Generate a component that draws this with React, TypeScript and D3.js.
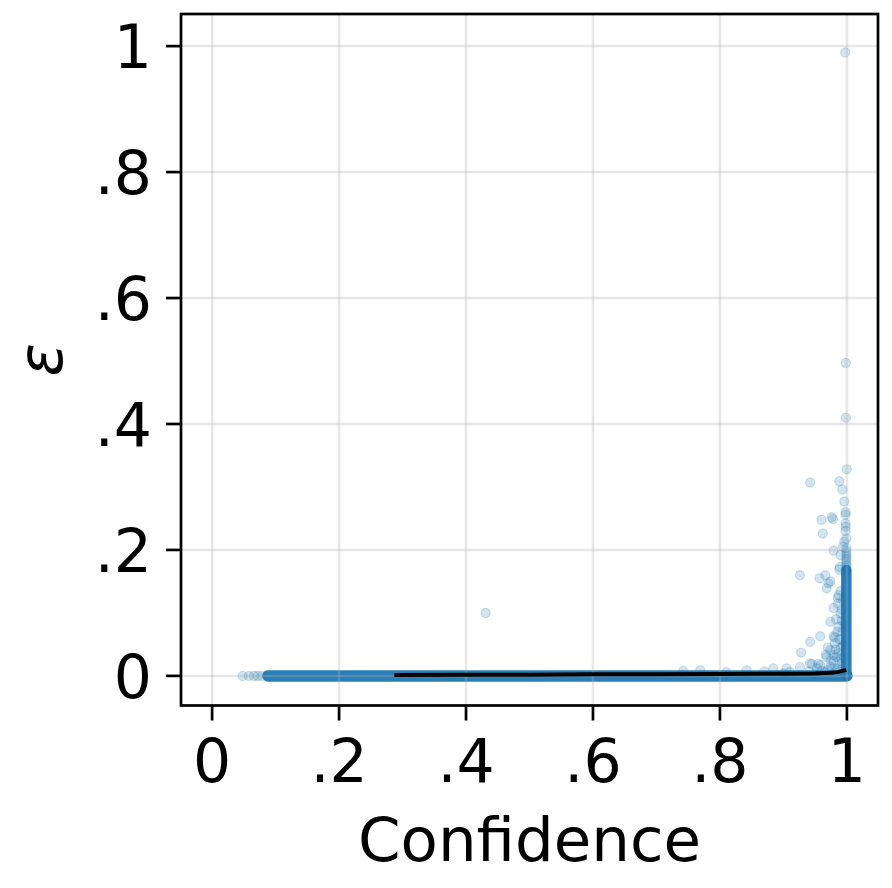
import React from "react";
import * as d3 from "d3";

// ---- data ----
const tickValues = [0, 0.2, 0.4, 0.6, 0.8, 1];
const tickLabels = ["0", ".2", ".4", ".6", ".8", "1"];

// scattered (individually visible) points: confidence, epsilon
const outlierConf = [
  0.9975, 0.9985, 0.9985, 0.9997, 0.988, 0.942, 0.993, 0.996, 0.998, 0.998,
  0.976, 0.978, 0.96, 0.998, 0.998, 0.998, 0.962, 0.999, 0.996, 0.994,
  0.979, 0.99, 0.989, 0.988, 0.926, 0.957, 0.966, 0.971, 0.974, 0.968,
  0.986, 0.987, 0.979, 0.986, 0.99, 0.974, 0.987, 0.958, 0.979, 0.981,
  0.942, 0.981, 0.928, 0.974, 0.979, 0.968, 0.967, 0.987, 0.984, 0.942,
  0.958, 0.945, 0.955, 0.979, 0.974, 0.989, 0.905, 0.884, 0.926, 0.953,
  0.842, 0.742, 0.769, 0.431, 0.96, 0.97, 0.985, 0.99, 0.993, 0.992,
  0.995, 0.993, 0.965, 0.94, 0.91, 0.87, 0.81, 0.98, 0.99, 0.995,
  0.983, 0.9, 0.95, 0.975, 0.97, 0.048, 0.058, 0.066, 0.072, 0.078,
  0.992, 0.994, 0.985, 0.988, 0.991, 0.996, 0.982, 0.976, 0.99, 0.994,
];
const outlierEps = [
  0.99, 0.497, 0.41, 0.328, 0.309, 0.307, 0.296, 0.277, 0.26, 0.256,
  0.252, 0.249, 0.248, 0.242, 0.237, 0.23, 0.226, 0.218, 0.213, 0.205,
  0.199, 0.192, 0.173, 0.169, 0.16, 0.155, 0.16, 0.147, 0.15, 0.139,
  0.124, 0.128, 0.108, 0.115, 0.099, 0.086, 0.078, 0.063, 0.063, 0.061,
  0.054, 0.052, 0.037, 0.041, 0.033, 0.03, 0.034, 0.036, 0.03, 0.02,
  0.017, 0.019, 0.019, 0.023, 0.015, 0.02, 0.012, 0.012, 0.014, 0.012,
  0.009, 0.008, 0.009, 0.1, 0.008, 0.01, 0.012, 0.045, 0.07, 0.088,
  0.03, 0.015, 0.006, 0.007, 0.006, 0.007, 0.006, 0.006, 0.01, 0.055,
  0.09, 0.004, 0.004, 0.025, 0.045, 0, 0, 0, 0, 0,
  0.105, 0.12, 0.07, 0.058, 0.028, 0.082, 0.042, 0.012, 0.135, 0.048,
];

// dense stacked points along the confidence≈1 column
const columnConf = 0.9991;
const columnPointEps = [
  0.168, 0.171, 0.175, 0.178, 0.182, 0.186, 0.19, 0.194, 0.198, 0.203,
];

// saturated point clouds (where points fully overlap)
const bandConf = [0.088, 1.0];
const bandEps = [0.0, 0.0];
const columnDenseEps = [0.0, 0.168];

// binned mean line
const meanConf = [0.287, 0.4, 0.5, 0.6, 0.7, 0.8, 0.9, 0.95, 0.975, 0.985, 0.993, 0.999];
const meanEps = [0.0015, 0.002, 0.002, 0.0025, 0.0025, 0.003, 0.0035, 0.004, 0.005, 0.006, 0.008, 0.0095];

const BLUE = "#1f77b4";
const FONT = "'DejaVu Sans', sans-serif";

export default function App() {
  const W = 892;
  const H = 888;
  const L = 181, R = 878, T = 14, B = 705.5;
  const x = d3.scaleLinear().domain([-0.049, 1.049]).range([L, R]);
  const y = d3.scaleLinear().domain([-0.047, 1.051]).range([B, T]);

  const line = d3
    .line<[number, number]>()
    .x((d) => x(d[0]))
    .y((d) => y(d[1]));

  const bandPts: [number, number][] = bandConf.map((c, i) => [c, bandEps[i]]);
  const colPts: [number, number][] = columnDenseEps.map((e) => [columnConf, e]);
  const meanPts: [number, number][] = meanConf.map((c, i) => [c, meanEps[i]]);

  const scatter = outlierConf.map((c, i) => ({ c, e: outlierEps[i] }));
  const colScatter = columnPointEps.map((e) => ({ c: columnConf, e }));

  const R_PT = 4.6;

  return (
    <svg
      width={W}
      height={H}
      style={{ position: "absolute", left: 0, top: 0, background: "#fff" }}
      fontFamily={FONT}
    >
      <defs>
        <clipPath id="plotclip">
          <rect x={L} y={T} width={R - L} height={B - T} />
        </clipPath>
      </defs>
      <rect x={0} y={0} width={W} height={H} fill="#fff" />

      <g clipPath="url(#plotclip)">
        {/* dense clouds */}
        <path
          d={line(bandPts) || ""}
          fill="none"
          stroke={BLUE}
          strokeOpacity={0.95}
          strokeWidth={11.5}
          strokeLinecap="round"
        />
        <path
          d={line(colPts) || ""}
          fill="none"
          stroke={BLUE}
          strokeOpacity={0.95}
          strokeWidth={10.5}
          strokeLinecap="round"
        />
        {colScatter.map((p, i) => (
          <circle
            key={"cs" + i}
            cx={x(p.c)}
            cy={y(p.e)}
            r={R_PT}
            fill={BLUE}
            fillOpacity={0.2}
            stroke={BLUE}
            strokeOpacity={0.2}
            strokeWidth={1.2}
          />
        ))}
        {scatter.map((p, i) => (
          <circle
            key={"s" + i}
            cx={x(p.c)}
            cy={y(p.e)}
            r={R_PT}
            fill={BLUE}
            fillOpacity={0.2}
            stroke={BLUE}
            strokeOpacity={0.2}
            strokeWidth={1.2}
          />
        ))}

        {/* grid (above scatter, below line) */}
        {tickValues.map((t, i) => (
          <line
            key={"gx" + i}
            x1={x(t)}
            x2={x(t)}
            y1={T}
            y2={B}
            stroke="#b0b0b0"
            strokeOpacity={0.3}
            strokeWidth={2.5}
          />
        ))}
        {tickValues.map((t, i) => (
          <line
            key={"gy" + i}
            x1={L}
            x2={R}
            y1={y(t)}
            y2={y(t)}
            stroke="#b0b0b0"
            strokeOpacity={0.3}
            strokeWidth={2.5}
          />
        ))}

        {/* mean line */}
        <path
          d={line(meanPts) || ""}
          fill="none"
          stroke="#000"
          strokeWidth={4}
          strokeLinejoin="round"
        />
      </g>

      {/* spines */}
      <rect x={L} y={T} width={R - L} height={B - T} fill="none" stroke="#000" strokeWidth={2.7} />

      {/* x ticks */}
      {tickValues.map((t, i) => (
        <g key={"xt" + i}>
          <line x1={x(t)} x2={x(t)} y1={B} y2={B + 15} stroke="#000" strokeWidth={2.7} />
          <text x={x(t)} y={782} textAnchor="middle" fontSize={60} fill="#000">
            {tickLabels[i]}
          </text>
        </g>
      ))}
      {/* y ticks */}
      {tickValues.map((t, i) => (
        <g key={"yt" + i}>
          <line x1={L - 15} x2={L} y1={y(t)} y2={y(t)} stroke="#000" strokeWidth={2.7} />
          <text x={152} y={y(t) + 22} textAnchor="end" fontSize={60} fill="#000">
            {tickLabels[i]}
          </text>
        </g>
      ))}

      <text x={(L + R) / 2} y={861} textAnchor="middle" fontSize={61} fill="#000">
        Confidence
      </text>
      <text
        transform={`translate(62, ${(T + B) / 2}) rotate(-90)`}
        textAnchor="middle"
        fontSize={62}
        fontStyle="italic"
        fill="#000"
      >
        ε
      </text>
    </svg>
  );
}
